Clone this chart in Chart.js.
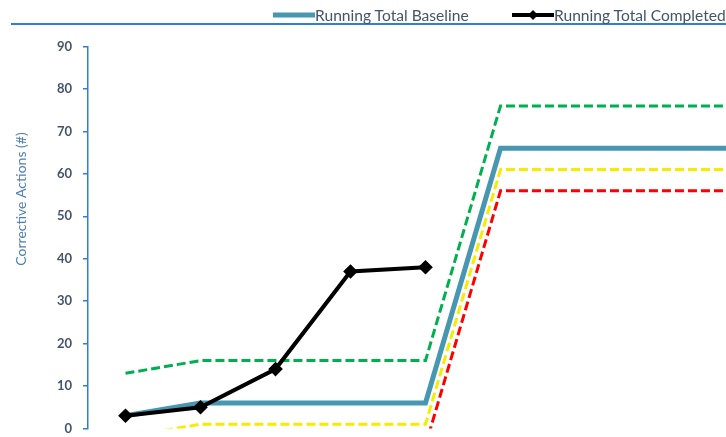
<!DOCTYPE html>
<html>
<head>
<meta charset="utf-8">
<script src="https://cdn.jsdelivr.net/npm/chart.js@4/dist/chart.umd.min.js"></script>
<style>
  html, body { margin: 0; padding: 0; background: #fff; overflow: hidden; width: 726px; height: 437px; }
  #wrap { position: relative; width: 1000px; height: 437px; }
  #chart { position: absolute; left: 0; top: 0; }
  #legend { position: absolute; left: 11px; top: 0; width: 978px; height: 23px;
            border-bottom: 2px solid #2e7fd6; font-family: Lato, "Liberation Sans", sans-serif;
            font-size: 15.6px; color: #44546a; }
  #legend .item { position: absolute; top: 5px; height: 20px; display: flex; align-items: center; white-space: nowrap; }
  #legend .item.base { left: 262px; }
  #legend .item.done { left: 501px; }
  #legend .mark { position: relative; width: 42px; height: 12px; display: inline-block; }
  #legend .mark .bar { position: absolute; left: 0; right: 0; top: 50%; transform: translateY(-50%); }
  #legend .mark .dia { position: absolute; left: 50%; top: 50%; width: 7px; height: 7px;
                       transform: translate(-50%, -50%) rotate(45deg); }
</style>
</head>
<body>
<div id="wrap">
  <canvas id="chart" width="1000" height="437"></canvas>
  <div id="legend"></div>
</div>
<script>
// Monthly running totals of corrective actions
const categories = ['Jan', 'Feb', 'Mar', 'Apr', 'May', 'Jun', 'Jul', 'Aug', 'Sep', 'Oct', 'Nov', 'Dec'];
const baselineTotals  = [3, 6, 6, 6, 6, 66, 66, 66, 66, 66, 66, 66];
const completedTotals = [3, 5, 14, 37, 38, null, null, null, null, null, null, null];
const upperBand       = [13, 16, 16, 16, 16, 76, 76, 76, 76, 76, 76, 76];
const lowerBand       = [-2, 1, 1, 1, 1, 61, 61, 61, 61, 61, 61, 61];
const floorBand       = [-7, -4, -4, -4, -4, 56, 56, 56, 56, 56, 56, 56];
const yTickLabels     = ['0', '10', '20', '30', '40', '50', '60', '70', '80', '90'];
const yTitle = 'Corrective Actions (#)';

const AXIS_BLUE = '#2e7fd6';

// Legend built as HTML from the datasets flagged for it
const htmlLegend = {
  id: 'htmlLegend',
  afterUpdate(chart) {
    const box = document.getElementById('legend');
    box.innerHTML = '';
    chart.data.datasets.forEach(ds => {
      if (!ds.legendKey) return;
      const item = document.createElement('div');
      item.className = 'item ' + ds.legendKey;
      const mark = document.createElement('span');
      mark.className = 'mark';
      const bar = document.createElement('span');
      bar.className = 'bar';
      bar.style.background = ds.borderColor;
      bar.style.height = ds.borderWidth + 'px';
      mark.appendChild(bar);
      if (ds.pointRadius) {
        const dia = document.createElement('span');
        dia.className = 'dia';
        dia.style.background = ds.pointBackgroundColor;
        mark.appendChild(dia);
      }
      const txt = document.createElement('span');
      txt.textContent = ds.label;
      item.appendChild(mark);
      item.appendChild(txt);
      box.appendChild(item);
    });
  }
};

// Rotated title beside the value axis
const axisTitle = {
  id: 'axisTitle',
  afterDraw(chart) {
    const ctx = chart.ctx;
    ctx.save();
    ctx.translate(21, 199);
    ctx.rotate(-Math.PI / 2);
    ctx.font = '14px Lato, "Liberation Sans", sans-serif';
    ctx.fillStyle = '#4f7fb8';
    ctx.textAlign = 'center';
    ctx.textBaseline = 'middle';
    ctx.fillText(yTitle, 0, 0);
    ctx.restore();
  }
};

const dashed = (label, data, color) => ({
  label, data,
  borderColor: color, backgroundColor: color,
  borderWidth: 3, borderDash: [9, 4],
  pointRadius: 0, tension: 0, fill: false
});

new Chart(document.getElementById('chart'), {
  type: 'line',
  data: {
    labels: categories,
    datasets: [
      {
        label: 'Running Total Completed', legendKey: 'done', data: completedTotals,
        borderColor: '#000000', backgroundColor: '#000000',
        pointBackgroundColor: '#000000', pointBorderColor: '#000000',
        borderWidth: 4, pointStyle: 'rectRot', pointRadius: 4.5, tension: 0, fill: false
      },
      {
        label: 'Running Total Baseline', legendKey: 'base', data: baselineTotals,
        borderColor: '#4797b2', backgroundColor: '#4797b2',
        borderWidth: 5, pointRadius: 0, tension: 0, fill: false
      },
      dashed('Baseline +10', upperBand, '#00b050'),
      dashed('Baseline -5', lowerBand, '#f5ec00'),
      dashed('Baseline -10', floorBand, '#ff0000')
    ]
  },
  options: {
    responsive: false,
    animation: false,
    layout: { padding: { left: 0, right: 12, top: 46.5, bottom: 8 } },
    plugins: { legend: { display: false }, tooltip: { enabled: false } },
    scales: {
      x: { display: false, offset: true },
      y: {
        min: 0, max: 90,
        afterBuildTicks(scale) {
          scale.ticks = yTickLabels.map(v => ({ value: Number(v) }));
        },
        afterFit(scale) {
          scale.width = 88;
          scale.paddingTop = 0;
          scale.paddingBottom = 0;
        },
        ticks: {
          color: '#44546a', padding: 11,
          font: { family: 'Lato', size: 13, weight: 'bold' },
          callback: (v, i) => yTickLabels[i]
        },
        grid: { drawOnChartArea: false, drawTicks: true, tickLength: 5, color: AXIS_BLUE, lineWidth: 1.5 },
        border: { color: AXIS_BLUE, width: 1.5 }
      }
    }
  },
  plugins: [htmlLegend, axisTitle]
});
</script>
</body>
</html>
